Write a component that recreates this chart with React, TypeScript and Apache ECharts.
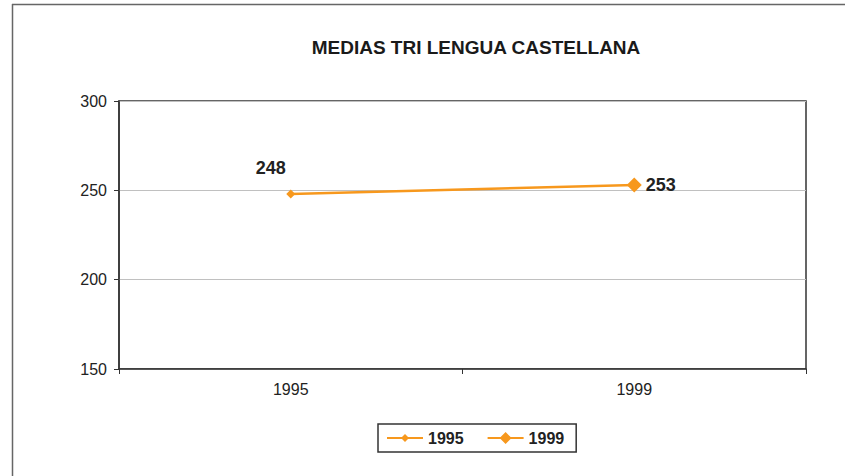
import React, { useEffect, useRef } from "react";
import * as echarts from "echarts";

const categories = ["1995", "1999"];
const seriesNames = ["1995", "1999"];
const values = [248, 253];
const yTicks = [150, 200, 250, 300];
const titleText = "MEDIAS TRI LENGUA CASTELLANA";

const ORANGE = "#F7981D";

export default function App() {
  const ref = useRef<HTMLDivElement>(null);
  useEffect(() => {
    if (!ref.current) return;
    const chart = echarts.init(ref.current, null, { renderer: "svg" });
    const smallIcon = "path://M0 5L36 5L36 7L0 7Z M18 2L22 6L18 10L14 6Z";
    const bigIcon = "path://M0 5L36 5L36 7L0 7Z M18 0L24 6L18 12L12 6Z";
    chart.setOption({
      animation: false,
      backgroundColor: "#ffffff",
      title: {
        text: titleText,
        left: 471,
        top: 33,
        textAlign: "center",
        textStyle: { fontFamily: "Liberation Sans", fontWeight: "bold", fontSize: 19, color: "#1a1a1a" },
      },
      graphic: [
        { type: "line", shape: { x1: 12, y1: 4.5, x2: 845, y2: 4.5 }, style: { stroke: "#666", lineWidth: 1.5 } },
        { type: "line", shape: { x1: 12.5, y1: 4, x2: 12.5, y2: 476 }, style: { stroke: "#666", lineWidth: 1.5 } },
      ],
      legend: {
        left: 378,
        top: 424,
        data: [
          { name: seriesNames[0], icon: smallIcon },
          { name: seriesNames[1], icon: bigIcon },
        ],
        itemWidth: 36,
        itemHeight: 12,
        itemGap: 24,
        padding: [6, 12, 6, 9],
        borderColor: "#333",
        borderWidth: 1.5,
        textStyle: { fontFamily: "Liberation Sans", fontWeight: "bold", fontSize: 16, color: "#222" },
      },
      grid: { left: 119, top: 101, right: 39, bottom: 107, show: true, borderColor: "#333", borderWidth: 1.5 },
      xAxis: {
        type: "category",
        data: categories,
        boundaryGap: true,
        axisLine: { lineStyle: { color: "#333", width: 1.5 } },
        axisTick: { show: true, length: 5, lineStyle: { color: "#333" } },
        axisLabel: { fontFamily: "Liberation Sans", fontSize: 16, color: "#222", margin: 12 },
      },
      yAxis: {
        type: "value",
        min: yTicks[0],
        max: yTicks[yTicks.length - 1],
        interval: 50,
        axisLine: { show: true, lineStyle: { color: "#333", width: 1.5 } },
        axisTick: { show: true, length: 5, lineStyle: { color: "#333" } },
        axisLabel: { fontFamily: "Liberation Sans", fontSize: 16, color: "#222", margin: 12 },
        splitLine: { show: true, lineStyle: { color: "#c0c0c0", width: 1 } },
      },
      series: [
        {
          name: seriesNames[0],
          type: "line",
          color: ORANGE,
          lineStyle: { color: ORANGE, width: 2.5 },
          itemStyle: { color: ORANGE },
          data: [
            {
              value: values[0],
              symbol: "diamond",
              symbolSize: 9,
              label: {
                show: true,
                position: "top",
                offset: [-20, -7],
                fontFamily: "Liberation Sans",
                fontWeight: "bold",
                fontSize: 18,
                color: "#222",
              },
            },
            { value: values[1], symbol: "none" },
          ],
        },
        {
          name: seriesNames[1],
          type: "line",
          color: ORANGE,
          lineStyle: { color: ORANGE, width: 2.5 },
          itemStyle: { color: ORANGE },
          symbol: "diamond",
          symbolSize: 15,
          data: [
            null,
            {
              value: values[1],
              label: {
                show: true,
                position: "right",
                distance: 4,
                fontFamily: "Liberation Sans",
                fontWeight: "bold",
                fontSize: 18,
                color: "#222",
              },
            },
          ],
        },
      ],
    });
    return () => chart.dispose();
  }, []);
  return <div ref={ref} style={{ position: "fixed", left: 0, top: 0, width: 845, height: 476 }} />;
}
